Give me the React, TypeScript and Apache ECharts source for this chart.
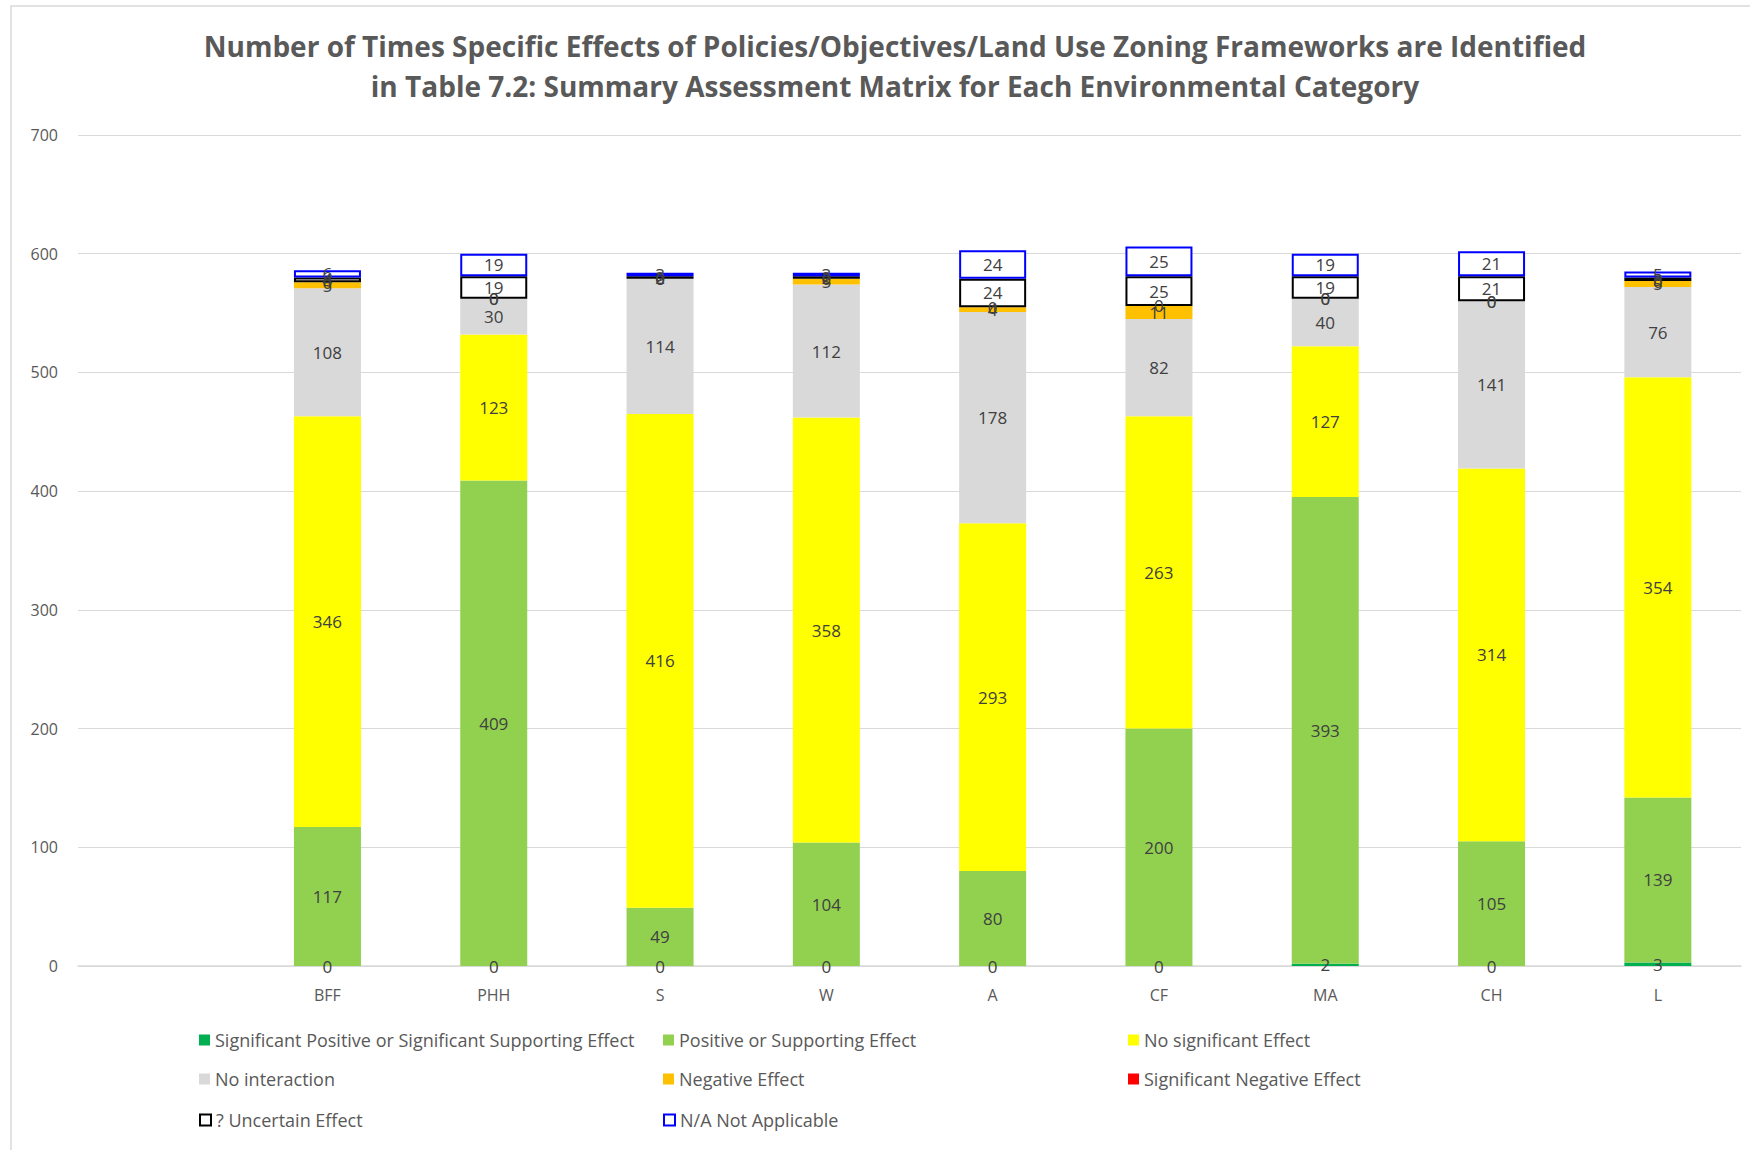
import React, { useEffect, useRef } from "react";
import * as echarts from "echarts";

const categories = ["", "BFF", "PHH", "S", "W", "A", "CF", "MA", "CH", "L"];
const seriesNames = [
  "Significant Positive or Significant Supporting Effect",
  "Positive or Supporting Effect",
  "No significant Effect",
  "No interaction",
  "Negative Effect",
  "Significant Negative Effect",
  "? Uncertain Effect",
  "N/A Not Applicable",
];
const sigPositive = [null, 0, 0, 0, 0, 0, 0, 2, 0, 3];
const positive = [null, 117, 409, 49, 104, 80, 200, 393, 105, 139];
const noSignificant = [null, 346, 123, 416, 358, 293, 263, 127, 314, 354];
const noInteraction = [null, 108, 30, 114, 112, 178, 82, 40, 141, 76];
const negative = [null, 5, 0, 0, 5, 4, 11, 0, 0, 5];
const sigNegative = [null, 0, 0, 0, 0, 0, 0, 0, 0, 0];
const uncertain = [null, 4, 19, 2, 2, 24, 25, 19, 21, 3];
const notApplicable = [null, 6, 19, 3, 3, 24, 25, 19, 21, 5];
const yTicks = { min: 0, max: 700, interval: 100 };

const seriesData = [sigPositive, positive, noSignificant, noInteraction, negative, sigNegative, uncertain, notApplicable];
const fills = ["#00B050", "#92D050", "#FFFF00", "#D9D9D9", "#FFC000", "#FF0000", "#FFFFFF", "#FFFFFF"];
const borders = [null, null, null, null, null, null, "#000000", "#0000FF"];

const FONT = "Open Sans";

export default function App() {
  const ref = useRef<HTMLDivElement>(null);
  useEffect(() => {
    if (!ref.current) return;
    const chart = echarts.init(ref.current, null, { renderer: "svg" });
    const series = seriesData.map((d, i) => ({
      name: seriesNames[i],
      type: "bar",
      stack: "total",
      barWidth: 67,
      data: d.map((v) => (v === null ? "-" : v)),
      itemStyle: borders[i]
        ? { color: fills[i], borderColor: borders[i], borderWidth: 2 }
        : { color: fills[i] },
      label: {
        show: true,
        position: "inside",
        color: "#404040",
        fontSize: 17,
        fontFamily: FONT,
        formatter: (p: any) => String(p.value),
      },
      labelLayout: { hideOverlap: false },
    }));
    const legendPos = [
      [199, 1031], [663, 1031], [1128, 1031],
      [199, 1070], [663, 1070], [1128, 1070],
      [199, 1111], [663, 1111],
    ];
    const legends = seriesNames.map((n, i) => ({
      data: [n],
      left: legendPos[i][0],
      top: legendPos[i][1],
      icon: "rect",
      itemWidth: 11,
      itemHeight: 11,
      itemGap: 4,
      padding: 0,
      textStyle: { fontSize: 18, color: "#595959", fontFamily: FONT, padding: [0, 0, 0, 0] },
    }));
    chart.setOption({
      animation: false,
      backgroundColor: "#ffffff",
      textStyle: { fontFamily: FONT },
      title: {
        text: "Number of Times Specific Effects of Policies/Objectives/Land Use Zoning Frameworks are Identified\nin Table 7.2: Summary Assessment Matrix for Each Environmental Category",
        left: 890,
        textAlign: "center",
        top: 21,
        textStyle: { fontSize: 28, fontWeight: "bold", color: "#595959", fontFamily: FONT, lineHeight: 40 },
      },
      legend: legends,
      grid: { left: 78, right: 9, top: 135, bottom: 184, containLabel: false },
      xAxis: {
        type: "category",
        data: categories,
        axisLine: { lineStyle: { color: "#D9D9D9", width: 1.5 } },
        axisTick: { show: false },
        axisLabel: { color: "#595959", fontSize: 16, fontFamily: FONT, margin: 21 },
      },
      yAxis: {
        type: "value",
        min: yTicks.min,
        max: yTicks.max,
        interval: yTicks.interval,
        axisLine: { show: false },
        axisTick: { show: false },
        splitLine: { lineStyle: { color: "#D9D9D9", width: 1.2 } },
        axisLabel: { color: "#595959", fontSize: 16, fontFamily: FONT, margin: 20 },
      },
      graphic: [
        {
          type: "rect",
          shape: { x: 11, y: 6, width: 1745, height: 1150 },
          style: { fill: "none", stroke: "#D9D9D9", lineWidth: 1.5 },
          silent: true,
        },
      ],
      series,
    });
    return () => chart.dispose();
  }, []);
  return (
    <div
      ref={ref}
      style={{ position: "fixed", left: 0, top: 0, width: 1750, height: 1150 }}
    />
  );
}
